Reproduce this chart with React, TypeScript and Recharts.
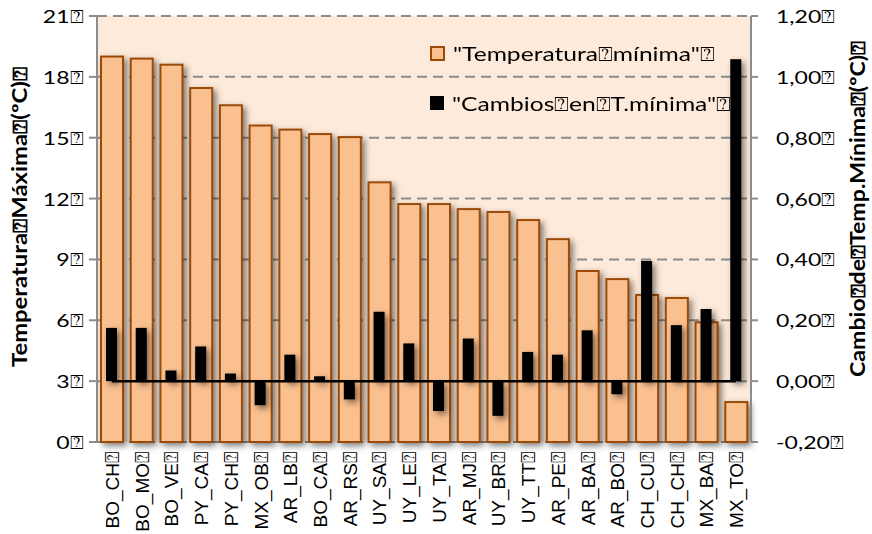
import {
  Bar,
  CartesianGrid,
  ComposedChart,
  Legend,
  ReferenceLine,
  XAxis,
  YAxis,
} from "recharts";

const Q = "\u2370";

const sites = [
  "BO_CH", "BO_MO", "BO_VE", "PY_CA", "PY_CH", "MX_OB", "AR_LB", "BO_CA",
  "AR_RS", "UY_SA", "UY_LE", "UY_TA", "AR_MJ", "UY_BR", "UY_TT", "AR_PE",
  "AR_BA", "AR_BO", "CH_CU", "CH_CH", "MX_BA", "MX_TO",
];
const tempMin = [
  19.0, 18.9, 18.6, 17.45, 16.6, 15.6, 15.4, 15.18, 15.03, 12.8, 11.73, 11.73,
  11.48, 11.34, 10.94, 10.0, 8.43, 8.03, 7.25, 7.1, 5.9, 1.97,
];
const cambios = [
  0.175, 0.175, 0.035, 0.114, 0.025, -0.079, 0.087, 0.016, -0.06, 0.228, 0.124,
  -0.098, 0.14, -0.114, 0.096, 0.087, 0.167, -0.043, 0.395, 0.184, 0.237, 1.058,
];
const leftTicks = [0, 3, 6, 9, 12, 15, 18, 21];
const rightTicks = [-0.2, 0, 0.2, 0.4, 0.6, 0.8, 1.0, 1.2];

const tempName = `"Temperatura${Q}mínima"${Q}`;
const cambioName = `"Cambios${Q}en${Q}T.mínima"${Q}`;
const legendOrder = [tempName, cambioName];
const leftTitle = `Temperatura${Q}Máxima${Q}(ºC)${Q}`;
const rightTitle = `Cambio${Q}de${Q}Temp.Mínima${Q}(ºC)${Q}`;

const data = sites.map((s, i) => ({
  site: s + Q,
  i,
  temp: tempMin[i],
  cambio: cambios[i],
}));
const bounds = Array.from({ length: sites.length + 1 }, (_, k) => k - 0.5);

const calibri = "Lato, 'Open Sans', sans-serif";
const arial = "'Liberation Sans', Arial, sans-serif";
const axisGray = "#8c8c8c";
const stretch = 1.28;

function ShadowBar(props: any) {
  let { x, y, width, height, fill, stroke, strokeWidth } = props;
  if (height < 0) {
    y += height;
    height = -height;
  }
  return (
    <rect
      x={x}
      y={y}
      width={width}
      height={height}
      fill={fill}
      stroke={stroke}
      strokeWidth={strokeWidth}
      style={{ filter: "drop-shadow(3px 3px 3px rgba(0,0,0,0.5))" }}
    />
  );
}

function CatTick(props: any) {
  const { x, y, payload } = props;
  return (
    <text
      transform={`translate(${x + 7},${y + 2}) rotate(-90)`}
      textAnchor="end"
      fontSize={19}
      fontFamily={arial}
      fill="#000"
    >
      {payload.value}
    </text>
  );
}

function NumTick(props: any) {
  const { x, y, payload, textAnchor, fmt } = props;
  return (
    <text
      transform={`translate(${x},${y}) scale(${stretch},1)`}
      textAnchor={textAnchor}
      dominantBaseline="central"
      fontSize={18}
      fontFamily={calibri}
      fill="#000"
    >
      {fmt(payload.value)}
    </text>
  );
}

function renderLegend(props: any) {
  const items = [...(props.payload || [])].sort(
    (a: any, b: any) => legendOrder.indexOf(a.value) - legendOrder.indexOf(b.value)
  );
  return (
    <div style={{ fontFamily: calibri, fontSize: 20, color: "#000" }}>
      {items.map((entry: any, idx: number) => {
        const stroke = entry.payload?.stroke;
        return (
          <div key={idx} style={{ display: "flex", alignItems: "center", height: 49.5 }}>
            <span
              style={{
                display: "inline-block",
                width: stroke ? 11 : 14,
                height: stroke ? 11 : 14,
                background: entry.color,
                border: stroke ? `2px solid ${stroke}` : "none",
                marginRight: 8,
              }}
            />
            <span
              style={{
                display: "inline-block",
                transform: "scaleX(1.23)",
                transformOrigin: "left center",
                whiteSpace: "nowrap",
              }}
            >
              {entry.value}
            </span>
          </div>
        );
      })}
    </div>
  );
}

export default function App() {
  return (
    <div style={{ position: "absolute", left: 0, top: 0, width: 872, height: 534, background: "#fff" }}>
      <ComposedChart
        width={872}
        height={534}
        data={data}
        margin={{ top: 16, right: 0, bottom: 0, left: 0 }}
      >
        <CartesianGrid
          xAxisId="a"
          yAxisId="left"
          vertical={false}
          stroke={axisGray}
          strokeWidth={2}
          strokeDasharray="10 6"
          fill="#FDEADA"
          fillOpacity={1}
        />
        <XAxis
          xAxisId="t"
          type="number"
          dataKey="i"
          domain={[-0.5, sites.length - 0.5]}
          ticks={bounds}
          tick={false}
          height={0}
          tickSize={7}
          stroke={axisGray}
          strokeWidth={2}
          allowDataOverflow
        />
        <XAxis
          xAxisId="a"
          dataKey="site"
          height={92}
          axisLine={false}
          tickLine={false}
          interval={0}
          tick={<CatTick />}
        />
        <XAxis xAxisId="b" dataKey="site" hide />
        <YAxis
          yAxisId="left"
          width={97}
          domain={[0, 21]}
          ticks={leftTicks}
          interval={0}
          tickSize={8}
          tickMargin={5}
          stroke={axisGray}
          strokeWidth={2}
          tick={<NumTick fmt={(v: number) => `${v}${Q}`} />}
          label={{
            content: () => (
              <text
                transform="translate(19,217) rotate(-90)"
                textAnchor="middle"
                dominantBaseline="central"
                fontFamily={calibri}
                fontWeight="bold"
                fontSize={20}
                textLength={300}
                lengthAdjust="spacingAndGlyphs"
                fill="#000"
              >
                {leftTitle}
              </text>
            ),
          }}
        />
        <YAxis
          yAxisId="right"
          orientation="right"
          width={121}
          domain={[-0.2, 1.2]}
          ticks={rightTicks}
          interval={0}
          tickSize={7}
          tickMargin={18}
          stroke={axisGray}
          strokeWidth={2}
          tick={<NumTick fmt={(v: number) => `${v.toFixed(2).replace(".", ",")}${Q}`} />}
          label={{
            content: () => (
              <text
                transform="translate(857,209) rotate(-90)"
                textAnchor="middle"
                dominantBaseline="central"
                fontFamily={calibri}
                fontWeight="bold"
                fontSize={20}
                textLength={336}
                lengthAdjust="spacingAndGlyphs"
                fill="#000"
              >
                {rightTitle}
              </text>
            ),
          }}
        />
        <Bar
          xAxisId="a"
          yAxisId="left"
          dataKey="temp"
          name={tempName}
          fill="#FAC090"
          stroke="#9C4A08"
          strokeWidth={2}
          barSize={22}
          shape={ShadowBar}
          isAnimationActive={false}
        />
        <Bar
          xAxisId="b"
          yAxisId="right"
          dataKey="cambio"
          name={cambioName}
          fill="#000"
          barSize={11}
          shape={ShadowBar}
          isAnimationActive={false}
        />
        <ReferenceLine
          xAxisId="b"
          yAxisId="right"
          segment={[
            { x: sites[0] + Q, y: 0 },
            { x: sites[sites.length - 1] + Q, y: 0 },
          ]}
          stroke="#000"
          strokeWidth={2.5}
        />
        <Legend
          layout="vertical"
          align="center"
          verticalAlign="middle"
          content={renderLegend}
          wrapperStyle={{ position: "absolute", left: 430, top: 29, width: 320 }}
        />
      </ComposedChart>
    </div>
  );
}
